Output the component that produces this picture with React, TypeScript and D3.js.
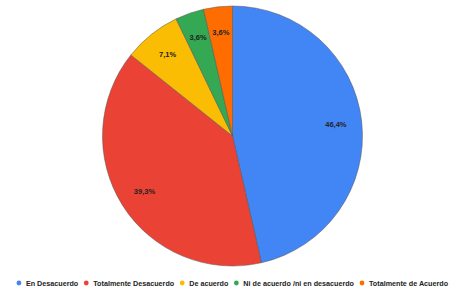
import React, { useRef, useEffect } from "react";
import * as d3 from "d3";

const categories = [
  "En Desacuerdo",
  "Totalmente Desacuerdo",
  "De acuerdo",
  "Ni de acuerdo /ni en desacuerdo",
  "Totalmente de Acuerdo",
];
const counts = [13, 11, 2, 1, 1];
const colors = ["#4285F4", "#EA4335", "#FBBC04", "#34A853", "#FF6D01"];

export default function App() {
  const ref = useRef<SVGSVGElement>(null);

  useEffect(() => {
    const width = 458;
    const height = 292;
    const cx = 232.5;
    const cy = 136;
    const r = 130;
    const font = "'Liberation Sans', Arial, sans-serif";

    const svg = d3.select(ref.current);
    svg.selectAll("*").remove();
    svg.attr("width", width).attr("height", height);

    const total = d3.sum(counts);
    const data = categories.map((c, i) => ({ label: c, value: counts[i], color: colors[i] }));

    const pie = d3.pie<any>().value(d => d.value).sort(null);
    const arcs = pie(data);
    const arc = d3.arc<any>().innerRadius(0).outerRadius(r);
    const labelArc = d3.arc<any>().innerRadius(r * 0.8).outerRadius(r * 0.8);

    const g = svg.append("g").attr("transform", `translate(${cx},${cy})`);

    // porciones
    g.selectAll("path")
      .data(arcs)
      .enter()
      .append("path")
      .attr("d", arc)
      .attr("fill", d => d.data.color)
      .attr("stroke", "#555")
      .attr("stroke-width", 0.5);

    // porcentajes
    g.selectAll("text")
      .data(arcs)
      .enter()
      .append("text")
      .attr("transform", d => `translate(${labelArc.centroid(d)})`)
      .attr("text-anchor", "middle")
      .attr("dy", "0.35em")
      .style("font-family", font)
      .style("font-size", "7.5px")
      .style("font-weight", 700)
      .style("fill", "#222")
      .text(d => (d.data.value / total * 100).toFixed(1).replace(".", ",") + "%");

    // leyenda
    const legend = svg.append("g").attr("transform", "translate(0,283)");
    const items = legend.selectAll("g")
      .data(data)
      .enter()
      .append("g");
    items.append("circle")
      .attr("r", 2.4)
      .attr("fill", d => d.color);
    const texts = items.append("text")
      .attr("x", 7)
      .attr("dy", "0.35em")
      .style("font-family", font)
      .style("font-size", "7.2px")
      .style("font-weight", 700)
      .style("fill", "#222")
      .text(d => d.label);

    const widths: number[] = [];
    texts.each(function () {
      widths.push((this as SVGTextElement).getComputedTextLength());
    });
    const gap = 8;
    const totalW = d3.sum(widths.map(w => w + 7 + gap)) - gap;
    let x = (17 + 450 - totalW) / 2;
    items.attr("transform", (d, i) => {
      const t = `translate(${x},0)`;
      x += widths[i] + 7 + gap;
      return t;
    });
  }, []);

  return (
    <div style={{ position: "absolute", left: 0, top: 0, width: 458, height: 292, background: "#fff" }}>
      <svg ref={ref} style={{ display: "block" }}></svg>
    </div>
  );
}
